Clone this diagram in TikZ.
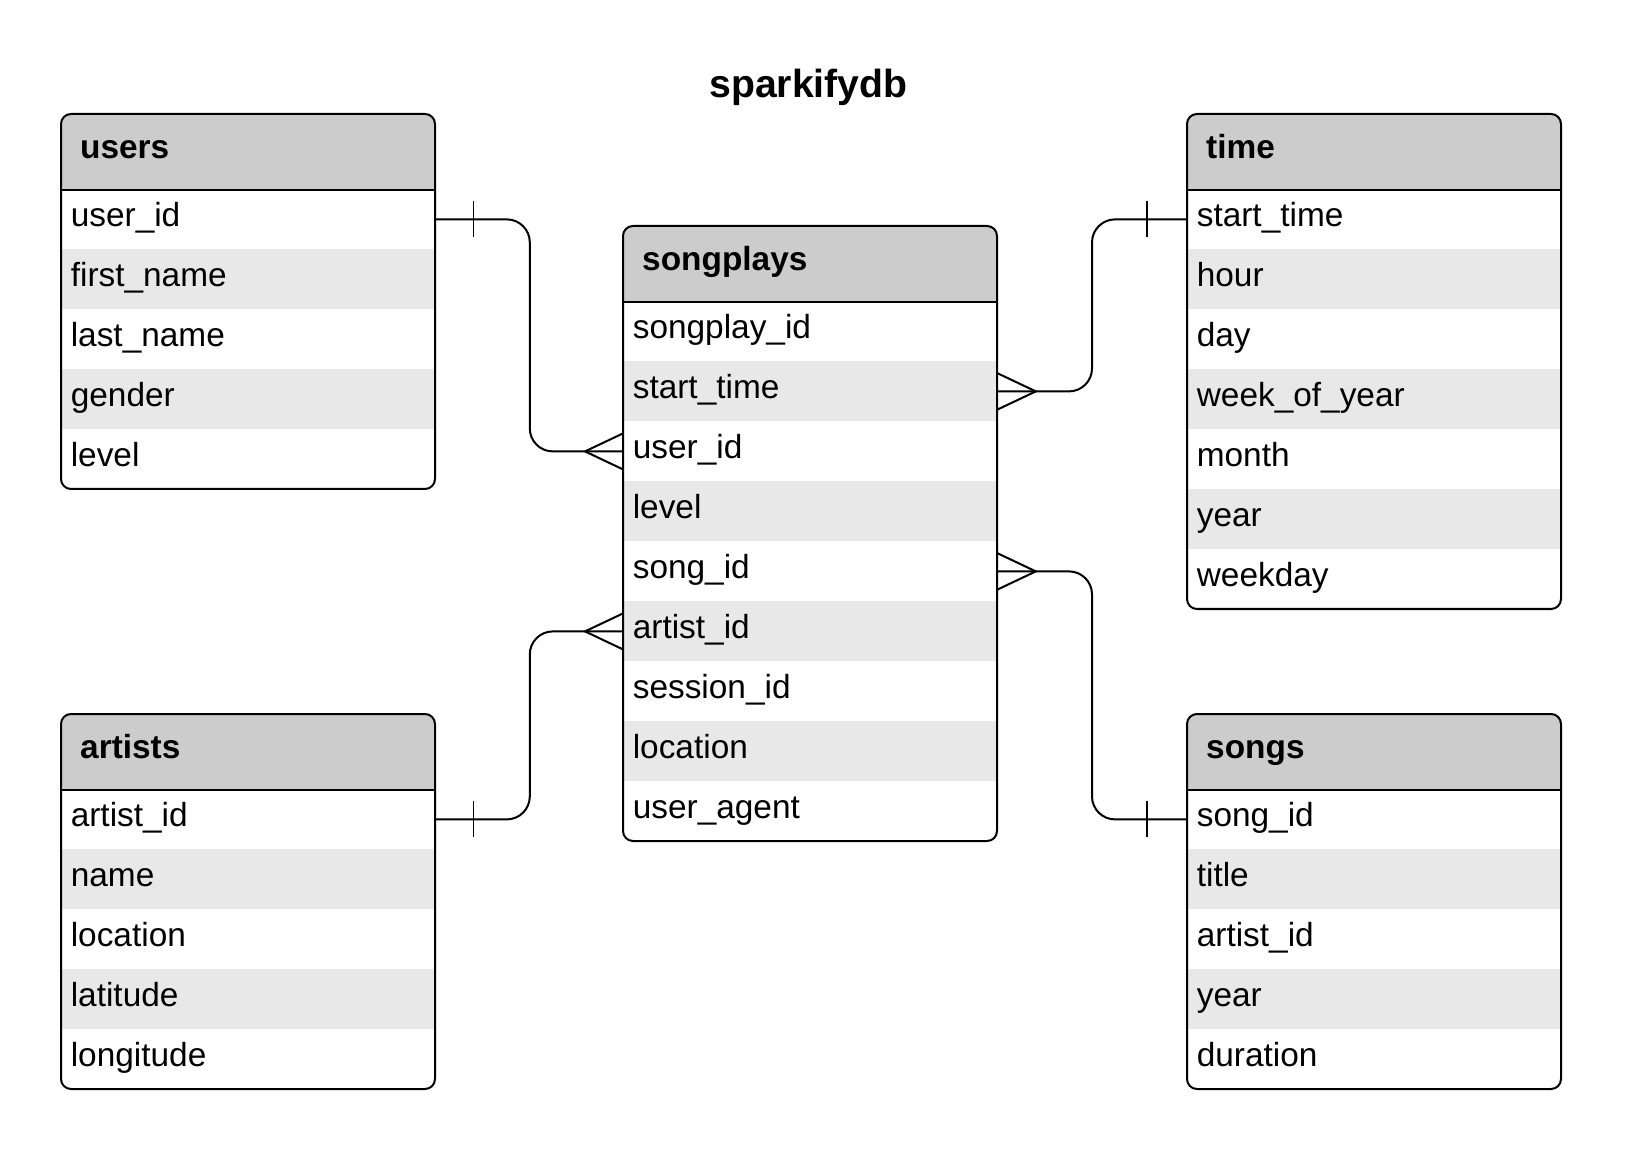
\documentclass[tikz,border=0pt]{standalone}
\usepackage{fontspec}
\setmainfont{Liberation Sans}
\usetikzlibrary{calc}

\definecolor{headgray}{HTML}{CCCCCC}
\definecolor{rowgray}{HTML}{E8E8E8}

\tikzset{
  head/.style={anchor=north west, fill=headgray, inner sep=0pt, inner xsep=9.4pt,
    text width=168.2pt, align=left, minimum height=37.5pt,
    text height=9.5pt, text depth=3pt, font=\fontsize{16.7}{20}\selectfont\bfseries},
  row/.style={anchor=north west, inner sep=0pt, inner xsep=4.7pt,
    text width=177.6pt, align=left, minimum height=30pt,
    text height=10pt, text depth=3pt, font=\fontsize{16.7}{20}\selectfont},
  border/.style={line width=1pt}
}

% one table: name, top left corner, title, fields
\newcommand{\dbtable}[4]{%
  \foreach \fld [count=\i] in {#4} {\xdef\nrows{\i}}
  \begin{scope}
    \clip[rounded corners=5pt] (#2) rectangle ++(374,{75+60*\nrows});
    \node[head] (#1) at (#2) {#3};
    \foreach \fld [count=\i] in {#4} {
      \pgfmathsetmacro\rowy{75+60*(\i-1)}
      \ifodd\i\relax \def\rowfill{white}\else \def\rowfill{rowgray}\fi
      \node[row, fill=\rowfill] (#1-\i) at ($(#2)+(0,\rowy)$) {\fld};
    }
  \end{scope}
  \draw[border, rounded corners=5pt] (#2) rectangle ++(374,{75+60*\nrows});
  \draw[border] (#1.south west) -- (#1.south east);
}

\begin{document}
\begin{tikzpicture}[x=0.5pt, y=-0.5pt,
    link/.style={line width=1pt, rounded corners=11.5pt},
    tick/.style={line width=0.65pt},
    crow/.style={line width=1pt}]
  \useasboundingbox (0,0) rectangle (1638,1170);

  \node[font=\fontsize{19.6}{24}\selectfont\bfseries, anchor=base] (title) at (808.5,98) {sparkifydb};

  \dbtable{users}{61,114}{users}{user\_id, first\_name, last\_name, gender, level}
  \dbtable{time}{1187,114}{time}{start\_time, hour, day, week\_of\_year, month, year, weekday}
  \dbtable{songplays}{623,226}{songplays}{songplay\_id, start\_time, user\_id, level, song\_id,
    artist\_id, session\_id, location, user\_agent}
  \dbtable{artists}{61,714}{artists}{artist\_id, name, location, latitude, longitude}
  \dbtable{songs}{1187,714}{songs}{song\_id, title, artist\_id, year, duration}

  % one to many links
  \foreach \a/\b in {users-1/songplays-3, artists-1/songplays-6} {
    \draw[link] (\a.east) -- ++(94,0) |- (\b.west);
    \draw[tick] ($(\a.east)+(38,-18)$) -- ++(0,36);
    \draw[crow] ($(\b.west)+(0,-18)$) -- ++(-38,18) -- ++(38,18);
  }
  \foreach \a/\b in {time-1/songplays-2, songs-1/songplays-5} {
    \draw[link] (\a.west) -- ++(-95,0) |- (\b.east);
    \draw[tick] ($(\a.west)+(-40,-18)$) -- ++(0,36);
    \draw[crow] ($(\b.east)+(0,-18)$) -- ++(38,18) -- ++(-38,18);
  }
\end{tikzpicture}
\end{document}
